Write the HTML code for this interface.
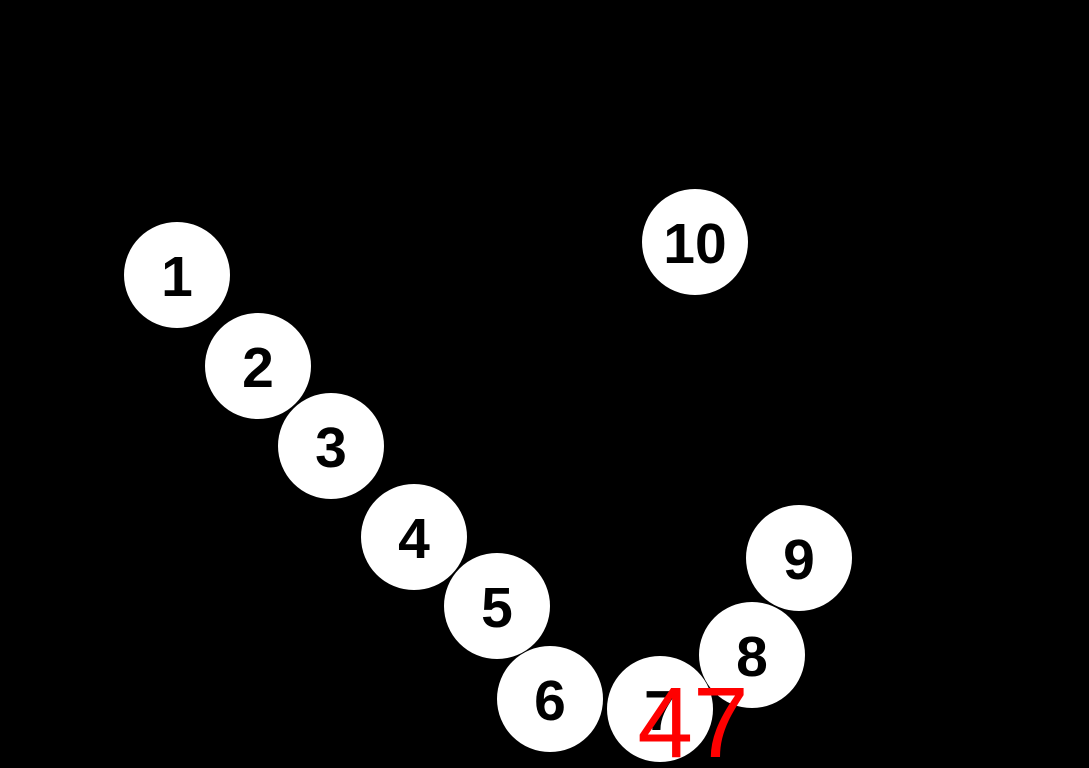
<!DOCTYPE html>
<html><head><style>
html,body{margin:0;padding:0;background:#000;}
svg{display:block}
text{font-family:"Liberation Sans",sans-serif;}
</style></head><body>
<svg width="1089" height="768" viewBox="0 0 1089 768">
<rect width="1089" height="768" fill="#000"/>
<g fill="#fff">
<circle cx="177" cy="275" r="53"/>
<circle cx="258" cy="366" r="53"/>
<circle cx="331" cy="446" r="53"/>
<circle cx="414" cy="537" r="53"/>
<circle cx="497" cy="606" r="53"/>
<circle cx="550" cy="699" r="53"/>
<circle cx="660" cy="709" r="53"/>
<circle cx="752" cy="655" r="53"/>
<circle cx="799" cy="558" r="53"/>
<circle cx="695" cy="242" r="53"/>
</g>
<g fill="#000" font-size="57" font-weight="bold" text-anchor="middle">
<text x="177" y="296">1</text>
<text x="258" y="387">2</text>
<text x="331" y="467">3</text>
<text x="414" y="558">4</text>
<text x="497" y="627">5</text>
<text x="550" y="720">6</text>
<text x="660" y="730">7</text>
<text x="752" y="676">8</text>
<text x="799" y="579">9</text>
<text x="695" y="263">10</text>
</g>
<text x="693" y="757" fill="#ff0000" font-size="100" text-anchor="middle">47</text>
</svg>
</body></html>
